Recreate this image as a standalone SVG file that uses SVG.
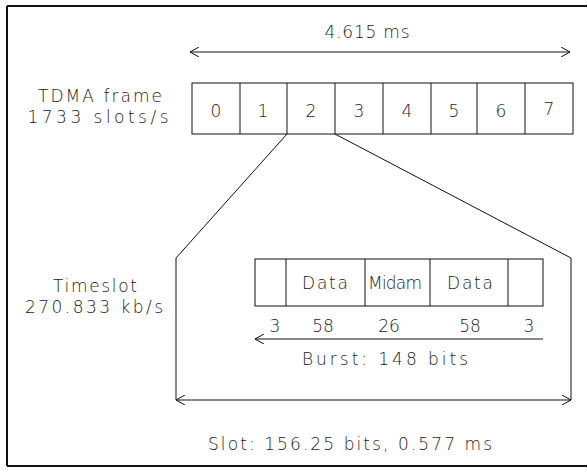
<svg xmlns="http://www.w3.org/2000/svg" width="587" height="471" viewBox="0 0 587 471">
<defs>
<marker id="ah" viewBox="0 0 10 10" refX="10" refY="5" markerWidth="10" markerHeight="10" markerUnits="userSpaceOnUse" orient="auto-start-reverse">
<path d="M1,0 L10,5 L1,10" fill="none" stroke="#111" stroke-width="1"/>
</marker>
</defs>
<style>
text{font-family:"DejaVu Sans","Liberation Sans",sans-serif;font-size:17px;font-weight:300;fill:#222;}
.c{text-anchor:middle;}
.b{fill:#fff;stroke:#111;stroke-width:1;}
.l{fill:none;stroke:#111;stroke-width:1;}
</style>
<rect width="587" height="471" fill="#fff"/>
<g id="border">
<path d="M7,6 H587 M7,6 V466 M7,466 H587" fill="none" stroke="#111" stroke-width="2"/>
</g>
<g id="connectors">
<line class="l" x1="190" y1="52" x2="570" y2="52" marker-start="url(#ah)" marker-end="url(#ah)"/>
<line class="l" x1="287" y1="134" x2="176" y2="258"/>
<line class="l" x1="335" y1="134" x2="571" y2="258"/>
<line class="l" x1="176" y1="258" x2="176" y2="400"/>
<line class="l" x1="571" y1="258" x2="571" y2="400"/>
<line class="l" x1="176" y1="400" x2="571" y2="400" marker-start="url(#ah)" marker-end="url(#ah)"/>
<line class="l" x1="255" y1="339" x2="543" y2="339" marker-start="url(#ah)"/>
</g>
<g id="frame-label">
<text class="c" x="100" y="102" textLength="124" lengthAdjust="spacing">TDMA frame</text>
<text class="c" x="98" y="123" textLength="141" lengthAdjust="spacing">1733 slots/s</text>
</g>
<g id="frame-duration">
<text class="c" x="367" y="38" textLength="85" lengthAdjust="spacing">4.615 ms</text>
</g>
<g id="frame">
<rect class="b" x="192" y="83" width="381" height="51"/>
<path class="l" d="M240,83 V134 M287,83 V134 M335,83 V134 M383,83 V134 M431,83 V134 M477,83 V134 M525,83 V134"/>
<text class="c" x="216" y="117">0</text>
<text class="c" x="263" y="117">1</text>
<text class="c" x="311" y="117">2</text>
<text class="c" x="359" y="117">3</text>
<text class="c" x="407" y="117">4</text>
<text class="c" x="454" y="117">5</text>
<text class="c" x="501" y="117">6</text>
<text class="c" x="549" y="115">7</text>
</g>
<g id="timeslot-label">
<text class="c" x="95" y="292" textLength="84" lengthAdjust="spacing">Timeslot</text>
<text class="c" x="94" y="313" textLength="138" lengthAdjust="spacing">270.833 kb/s</text>
</g>
<g id="burst">
<rect class="b" x="255" y="259" width="288" height="47"/>
<path class="l" d="M286,259 V306 M365,259 V306 M430,259 V306 M508,259 V306"/>
<text class="c" x="325" y="289" textLength="46" lengthAdjust="spacing">Data</text>
<text class="c" x="395" y="289" textLength="54" lengthAdjust="spacing">Midam</text>
<text class="c" x="470" y="289" textLength="46" lengthAdjust="spacing">Data</text>
</g>
<g id="burst-bits">
<text class="c" x="275" y="332">3</text>
<text class="c" x="323" y="332">58</text>
<text class="c" x="389" y="332">26</text>
<text class="c" x="470" y="332">58</text>
<text class="c" x="529" y="332">3</text>
<text class="c" x="385" y="365" textLength="166" lengthAdjust="spacing">Burst: 148 bits</text>
</g>
<g id="slot-label">
<text class="c" x="350" y="450" textLength="284" lengthAdjust="spacing">Slot: 156.25 bits, 0.577 ms</text>
</g>
</svg>
